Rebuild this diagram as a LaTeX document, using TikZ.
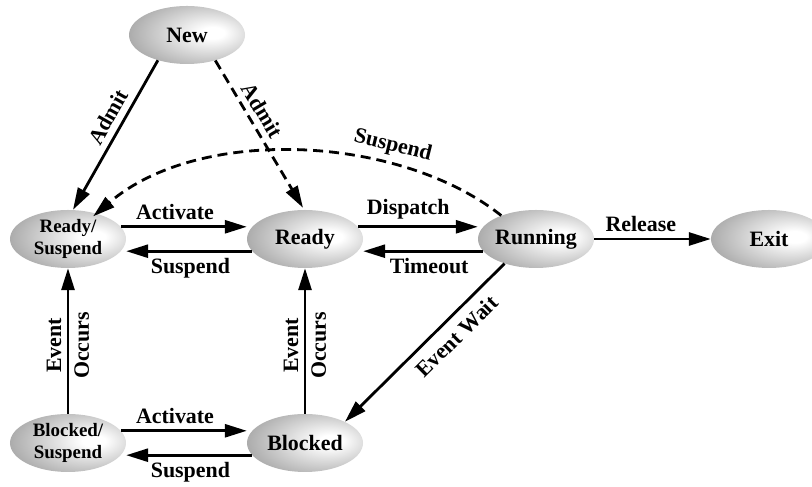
\documentclass[tikz,border=0pt]{standalone}
\usepackage{fontspec}
\setmainfont{Liberation Serif}
\usetikzlibrary{arrows.meta,shapes.geometric}

% grey oval fill, brightest a little right of centre
\pgfdeclareradialshading{statefill}{\pgfpoint{12bp}{2bp}}{%
  color(0bp)=(white); color(5bp)=(white); color(50bp)=(black!55); color(70bp)=(black!62)}

\begin{document}
\begin{tikzpicture}[x=1bp,y=1bp,
  state/.style={ellipse, minimum width=116bp, minimum height=58bp, inner sep=0pt,
    shading=statefill, font=\fontsize{22}{24}\selectfont\bfseries},
  twoline/.style={state, align=center, font=\fontsize{19}{22}\selectfont\bfseries},
  conn/.style={line width=2.8bp, -{Triangle[length=22bp,width=13bp]}},
  dashedconn/.style={conn, dash pattern=on 10bp off 6bp},
  lbl/.style={font=\fontsize{22}{24}\selectfont\bfseries, inner xsep=3bp, inner ysep=6bp},
  vlbl/.style={lbl, align=center, font=\fontsize{22}{28}\selectfont\bfseries, inner sep=0pt}]

\useasboundingbox (0,0) rectangle (812,487);
\clip (0,0) rectangle (812,487);

% states
\node[state]   (new)  at (187,452) {New};
\node[twoline] (rs)   at (68,248)  {Ready/\\Suspend};
\node[state]   (rd)   at (305,248) {Ready};
\node[state]   (run)  at (536,248) {Running};
\node[state]   (exit) at (769,248) {Exit};
\node[twoline] (bs)   at (68,44)   {Blocked/\\Suspend};
\node[state]   (bl)   at (305,44)  {Blocked};

% admission
\draw[conn] (new.221) -- ([xshift=5bp]rs.north)
  node[lbl, pos=0.43, sloped, above] {Admit};
\draw[dashedconn] (new.318) -- ([xshift=-2bp,yshift=2bp]rd.north)
  node[lbl, pos=0.39, sloped, above] {Admit};

% suspension of a running process
\draw[dashedconn] (run.146) .. controls (400,352) and (200,362) ..
  ([xshift=-16bp,yshift=2bp]rs.north east)
  node[lbl, pos=0.3, sloped, above] {Suspend};

% Ready/Suspend <-> Ready
\draw[conn] (rs.13) -- (rs.13 -| rd.west)
  node[lbl, pos=0.43, above] {Activate};
\draw[conn] (rd.193) -- (rd.193 -| rs.east)
  node[lbl, pos=0.49, below] {Suspend};

% Ready <-> Running
\draw[conn] (rd.13) -- (rd.13 -| run.west)
  node[lbl, pos=0.42, above] {Dispatch};
\draw[conn] (run.193) -- (run.193 -| rd.east)
  node[lbl, pos=0.45, below] {Timeout};

% Running -> Exit
\draw[conn] (run.east) -- (exit.west)
  node[lbl, pos=0.4, above] {Release};

% Running -> Blocked
\draw[conn] (run.218) -- (bl.28)
  node[lbl, pos=0.38, sloped, below, inner ysep=9bp] {Event Wait};

% event occurrence
\draw[conn] (bs.north) -- (rs.south)
  node[vlbl, pos=0.47, sloped] {Event\\Occurs};
\draw[conn] (bl.north) -- (rd.south)
  node[vlbl, pos=0.47, sloped] {Event\\Occurs};

% Blocked/Suspend <-> Blocked
\draw[conn] (bs.13) -- (bs.13 -| bl.west)
  node[lbl, pos=0.43, above] {Activate};
\draw[conn] (bl.193) -- (bl.193 -| bs.east)
  node[lbl, pos=0.49, below] {Suspend};

\end{tikzpicture}
\end{document}
